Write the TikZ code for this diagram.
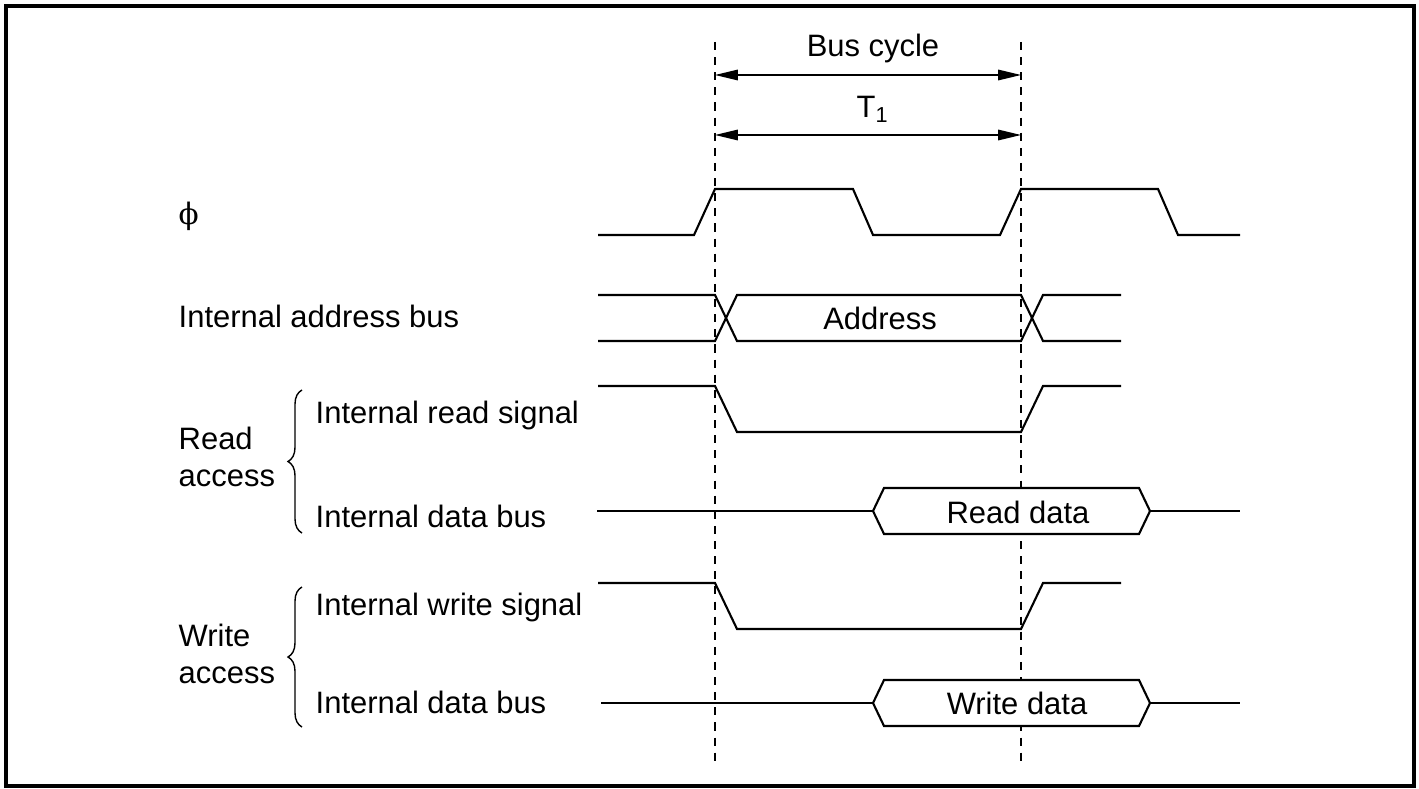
\documentclass[tikz,border=0pt]{standalone}
\usepackage{fontspec}
\setmainfont{Liberation Sans}
\newfontfamily\phifont{DejaVu Serif}
\usetikzlibrary{arrows.meta,decorations.pathreplacing}

\begin{document}
\begin{tikzpicture}[
  x=0.01cm, y=-0.01cm,
  wave/.style={line width=0.6pt, line join=miter},
  guide/.style={line width=0.4pt, dash pattern=on 2.3pt off 2pt},
  dim/.style={line width=0.4pt, {Triangle[length=6.5pt,width=3pt]}-{Triangle[length=6.5pt,width=3pt]}},
  lbl/.style={font=\fontsize{8.8}{10.6}\selectfont, inner sep=0pt, anchor=base west},
  tag/.style={font=\fontsize{8.8}{10.6}\selectfont, inner sep=0pt, anchor=base},
  grp/.style={decorate, decoration={brace, amplitude=0.14cm}, line width=0.4pt}
]
  \useasboundingbox (0,0) rectangle (1419,788);
  \draw[line width=1pt] (6,6) rectangle (1414,786);

  % Cycle boundaries
  \coordinate (sa) at (715,42);  \coordinate (ea) at (715,767);
  \coordinate (sb) at (1021,42); \coordinate (eb) at (1021,767);
  \draw[guide] (sa) -- (ea);
  \draw[guide] (sb) -- (eb);

  % Cycle lengths
  \node[tag] (buscyc) at (873,57) {Bus cycle};
  \coordinate (bc1) at (715,75);  \coordinate (bc2) at (1021,75);
  \draw[dim] (bc1) -- (bc2);
  \node[tag] (tone) at (873,118) {T\textsubscript{1}};
  \coordinate (t1a) at (715,135); \coordinate (t1b) at (1021,135);
  \draw[dim] (t1a) -- (t1b);

  % Signal names
  \node[lbl] (phi) at (178,224) {\phifont\fontsize{8.4}{10}\selectfont ϕ};
  \node[lbl] (addrname) at (178,327) {Internal address bus};
  \node[lbl, anchor=west, align=left] (readacc) at (178,457) {Read\\access};
  \node[lbl] (rdsig) at (315,423) {Internal read signal};
  \node[lbl] (rdbus) at (315,527) {Internal data bus};
  \node[lbl, anchor=west, align=left] (writeacc) at (178,654) {Write\\access};
  \node[lbl] (wrsig) at (315,615) {Internal write signal};
  \node[lbl] (wrbus) at (315,713) {Internal data bus};

  % Braces
  \coordinate (rb1) at (302,533); \coordinate (rb2) at (302,390);
  \draw[grp] (rb1) -- (rb2);
  \coordinate (wb1) at (302,727); \coordinate (wb2) at (302,587);
  \draw[grp] (wb1) -- (wb2);

  % Clock
  \draw[wave] (598,235) -- (694,235) -- (715,189) -- (853,189) -- (873,235)
    -- (1000,235) -- (1021,189) -- (1158,189) -- (1178,235) -- (1240,235);

  % Address bus
  \draw[wave] (598,295) -- (715,295) -- (737,341) -- (1021,341) -- (1043,295) -- (1121,295);
  \draw[wave] (598,341) -- (715,341) -- (737,295) -- (1021,295) -- (1043,341) -- (1121,341);
  \node[tag] (addr) at (880,329) {Address};

  % Read access
  \draw[wave] (598,386) -- (715,386) -- (737,432) -- (1021,432) -- (1043,386) -- (1121,386);
  \draw[wave] (597,511) -- (873,511) (1150,511) -- (1240,511);
  \draw[wave, fill=white] (873,511) -- (884,488) -- (1139,488) -- (1150,511)
    -- (1139,534) -- (884,534) -- cycle;
  \node[tag] (rddata) at (1018,523) {Read data};

  % Write access
  \draw[wave] (598,583) -- (715,583) -- (737,629) -- (1021,629) -- (1043,583) -- (1121,583);
  \draw[wave] (601,703) -- (873,703) (1150,703) -- (1240,703);
  \draw[wave, fill=white] (873,703) -- (884,680) -- (1139,680) -- (1150,703)
    -- (1139,726) -- (884,726) -- cycle;
  \node[tag] (wrdata) at (1017,714) {Write data};
\end{tikzpicture}
\end{document}
